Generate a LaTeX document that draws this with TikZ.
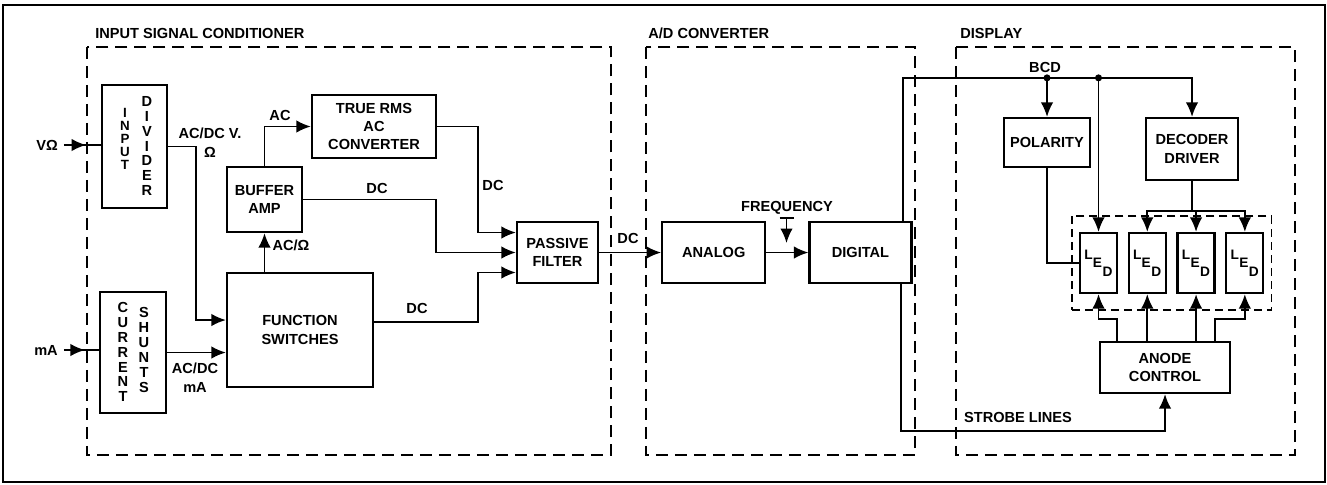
\documentclass[tikz,border=0pt]{standalone}
\usepackage{fontspec}
\setmainfont{Liberation Sans}
\usetikzlibrary{arrows.meta, positioning, fit, decorations.markings}

\begin{document}
\begin{tikzpicture}[x=0.02cm, y=-0.02cm, >={Latex[length=2.9mm,width=2.5mm]},
  font=\fontsize{8.3}{10.5}\selectfont\bfseries,
  box/.style={rectangle, draw, line width=1.3pt, inner sep=1pt, align=center},
  led/.style={box, minimum width=0.74cm, minimum height=1.2cm},
  ledchar/.style={inner sep=0pt, font=\fontsize{7.8}{8}\selectfont\bfseries},
  stack/.style={align=center, inner sep=0pt, font=\fontsize{8.3}{8.5}\selectfont\bfseries},
  lbl/.style={inner sep=0pt},
  wire/.style={line width=1pt},
  group/.style={draw, line width=1.3pt, dash pattern=on 2.4mm off 1.4mm},
  title/.style={anchor=west, inner sep=0pt},
  midarrow/.style={postaction={decorate}, decoration={markings, mark=at position 0.6 with {\arrow{>}}}}]

  \useasboundingbox (0,0) rectangle (1327,484);
  \draw[line width=1.5pt] (3,5) rectangle (1325,482);

  % Sections
  \draw[group] (87,47) rectangle (611,455);
  \draw[group] (646,47) rectangle (915,455);
  \draw[group] (956,47) rectangle (1295,455);
  \node[title] (t-isc) at (95,33) {INPUT SIGNAL CONDITIONER};
  \node[title] (t-adc) at (648,33) {A/D CONVERTER};
  \node[title] (t-disp) at (960,33) {DISPLAY};

  % Input signal conditioner
  \node[box, minimum width=1.3cm, minimum height=2.46cm] (div) at (134.5,146.5) {};
  \node[stack, font=\fontsize{7.6}{7.3}\selectfont\bfseries] (div-a) at (125,139) {I\\N\\P\\U\\T};
  \node[stack] (div-b) at (147,146) {D\\I\\V\\I\\D\\E\\R};
  \node[box, minimum width=1.32cm, minimum height=2.42cm] (shunt) at (133,352.5) {};
  \node[stack] (shunt-a) at (123,352) {C\\U\\R\\R\\E\\N\\T};
  \node[stack] (shunt-b) at (144,350) {S\\H\\U\\N\\T\\S};
  \node[box, minimum width=1.5cm, minimum height=1.3cm] (buf) at (264.5,199.5) {BUFFER\\AMP};
  \node[box, minimum width=2.48cm, minimum height=1.26cm] (rms) at (374,126.5) {TRUE RMS\\AC\\CONVERTER};
  \node[box, minimum width=2.92cm, minimum height=2.28cm] (fsw) at (300,330) {FUNCTION\\SWITCHES};
  \node[box, minimum width=1.62cm, minimum height=1.22cm] (pf) at (557.5,252.5) {PASSIVE\\FILTER};

  \node (vin) at (47,145) {VΩ};
  \node (ma) at (46,350) {mA};

  \draw[wire, midarrow] (vin.east) -- (vin.east -| div.west);
  \draw[wire, midarrow] (ma.east) -- (ma.east -| shunt.west);
  \draw[wire, ->] (div.east) -- ++(28,0) |- ([yshift=0.2cm]fsw.west);
  \draw[wire, ->] (shunt.east) -- (shunt.east -| fsw.west);
  \draw[wire, ->] (buf.south |- fsw.north) -- (buf.south);
  \draw[wire, ->] (buf.north) |- (rms.west);
  \draw[wire, ->] (rms.east) -- ++(41,0) |- ([yshift=0.4cm]pf.west);
  \draw[wire, ->] (buf.east) -- ++(133,0) |- (pf.west);
  \draw[wire, ->] ([yshift=0.16cm]fsw.east) -- ++(104,0) |- ([yshift=-0.4cm]pf.west);

  \node[lbl, align=center] (l-acdcv) at (210,142.5) {AC/DC V.\\Ω};
  \node[lbl] (l-ac) at (280,115) {AC};
  \node[lbl] (l-dcbuf) at (377,188) {DC};
  \node[lbl] (l-dcrms) at (493,185) {DC};
  \node[lbl] (l-acohm) at (291,245) {AC/Ω};
  \node[lbl] (l-dcfsw) at (417,308) {DC};
  \node[lbl, align=center] (l-acdcma) at (195,377.5) {AC/DC\\mA};
  \node[lbl] (l-dcpf) at (628,238) {DC};

  % A/D converter
  \node[box, minimum width=2.06cm, minimum height=1.22cm, right=1.24cm of pf] (ana) {ANALOG};
  \node[box, minimum width=2.04cm, minimum height=1.22cm, right=0.84cm of ana] (dig) {DIGITAL};
  \draw[wire, ->] (pf.east) -- (ana.west);
  \draw[wire, ->] (ana.east) -- (dig.west);

  \node[lbl] (freq) at (787,208) {FREQUENCY};
  \coordinate (ftap) at (786.5,218);
  \draw[wire] ([xshift=-0.14cm]ftap) -- ([xshift=0.14cm]ftap);
  \draw[wire, ->] (ftap) -- ++(0,25);

  % Display
  \node[box, minimum width=1.72cm, minimum height=0.98cm] (pol) at (1047,142.5) {POLARITY};
  \node[box, minimum width=1.84cm, minimum height=1.24cm] (dec) at (1192,149) {DECODER\\DRIVER};
  \node[led] (led1) at (1098.5,263) {};
  \node[led, right=0.19cm of led1] (led2) {};
  \node[led, right=0.19cm of led2] (led3) {};
  \node[led, right=0.19cm of led3] (led4) {};
  \foreach \i in {1,...,4} {
    \node[ledchar] (led\i-l) at ([shift={(-10,-8)}]led\i.center) {L};
    \node[ledchar] (led\i-e) at ([shift={(-1,0)}]led\i.center) {E};
    \node[ledchar] (led\i-d) at ([shift={(9,9)}]led\i.center) {D};
  }
  \node[draw, line width=0.9pt, dash pattern=on 1.6mm off 1mm, inner xsep=0.14cm, inner ysep=0.32cm, fit=(led1)(led4)] (ledgrp) {};
  \node[box, minimum width=2.6cm, minimum height=1.02cm] (anode) at (1165,367.5) {ANODE\\CONTROL};

  \draw[wire, ->] ([xshift=-0.2cm]dig.north east) -- ++(0,-143) coordinate (bcd) -| (dec.north);
  \coordinate (bus1) at (pol.north |- bcd);
  \coordinate (bus2) at (led1.north |- bcd);
  \fill (bus1) circle (2pt);
  \fill (bus2) circle (2pt);
  \draw[wire, ->] (bus1) -- (pol.north);
  \draw[wire, ->] (bus2) -- (led1.north);
  \node[lbl] (l-bcd) at (1045,67) {BCD};

  \draw[wire] (dec.south) -- ++(0,30) coordinate (dbar);
  \draw[wire, ->] (dbar) -| (led2.north);
  \draw[wire, ->] (dbar) -| (led3.north);
  \draw[wire, ->] (dbar) -| (led4.north);
  \draw[wire] (pol.south) |- (led1.west);

  \draw[wire, ->] ([xshift=-0.96cm]anode.north) -- ++(0,-22) -| (led1.south);
  \draw[wire, ->] (led2.south |- anode.north) -- (led2.south);
  \draw[wire, ->] (led3.south |- anode.north) -- (led3.south);
  \draw[wire, ->] ([xshift=1cm]anode.north) -- ++(0,-22) -| (led4.south);

  \draw[wire, ->] ([xshift=-0.24cm]dig.south east) -- ++(0,146.5) -| (anode.south);
  \node[lbl] (l-strobe) at (1018,417) {STROBE LINES};
\end{tikzpicture}
\end{document}
